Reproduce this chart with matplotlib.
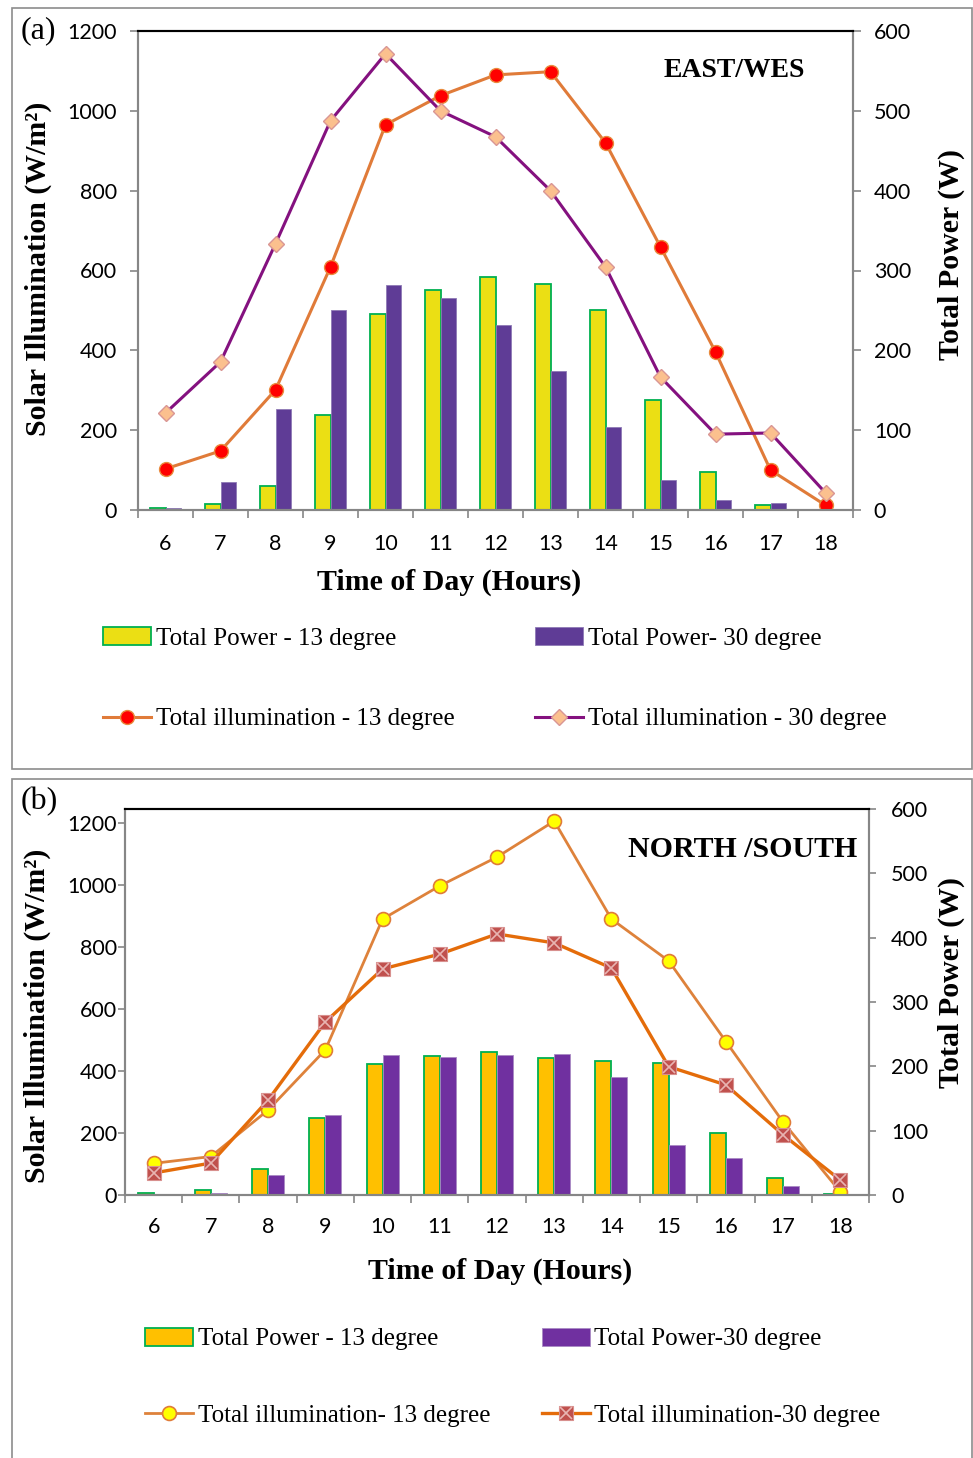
import numpy as np
import matplotlib
matplotlib.use('Agg')
import matplotlib.pyplot as plt
from matplotlib.patches import Rectangle
from matplotlib.legend_handler import HandlerTuple

plt.rcParams.update({'figure.facecolor': 'white'})

## Data
hours = [6, 7, 8, 9, 10, 11, 12, 13, 14, 15, 16, 17, 18]

# (a) EAST/WEST
a_power_13 = [3, 7.5, 30, 119, 246, 275, 292, 283, 251, 138, 47, 6, 0.5]
a_power_30 = [3, 35, 126, 250, 282, 265, 232, 174, 104, 37, 12, 9, 0]
a_illum_13 = [103, 148, 301, 609, 965, 1038, 1090, 1098, 920, 659, 396, 100, 12]
a_illum_30 = [243, 371, 667, 975, 1143, 1000, 935, 800, 609, 333, 190, 193, 43]

# (b) NORTH/SOUTH
b_power_13 = [3.6, 7.8, 40, 119, 204, 216, 222, 213, 208, 205, 97, 26, 1]
b_power_30 = [1, 2.6, 31, 124, 217, 214, 217, 219, 183, 77, 58, 14, 0]
b_illum_13 = [102, 124, 274, 468, 890, 997, 1090, 1206, 890, 755, 495, 235, 10]
b_illum_30 = [71, 103, 306, 558, 729, 777, 842, 813, 732, 414, 355, 194, 48]

W, H = 973, 1458
fig = plt.figure(figsize=(W / 100, H / 100), dpi=100)

def fx(px):
    return px / W

def fy(py):
    return 1 - py / H

SERIF = 'Liberation Serif'
TICKF = 'Lato'
GRAY = '#868686'
LABSIZE = 21.5

#------------------------------------------------------
# panel frames
fig.patches.append(Rectangle((fx(12), fy(769)), fx(960), 761 / H, transform=fig.transFigure,
                             fill=False, edgecolor='#8c8c8c', lw=1.2))
fig.patches.append(Rectangle((fx(12), fy(1462)), fx(960), 683 / H, transform=fig.transFigure,
                             fill=False, edgecolor='#8c8c8c', lw=1.2))


def setup_axes(ax, ax2, ymax_left, lpad, rpad, xpad, tlen):
    x = np.arange(len(hours))
    ax.set_xlim(-0.5, len(hours) - 0.5)
    ax.set_ylim(0, ymax_left)
    ax2.set_ylim(0, 600)
    ax.set_yticks(np.arange(0, 1201, 200))
    ax2.set_yticks(np.arange(0, 601, 100))
    ax.set_xticks(np.arange(-0.5, len(hours), 1.0))
    ax.set_xticklabels([])
    ax.set_xticks(x, minor=True)
    ax.set_xticklabels([str(h) for h in hours], minor=True, fontfamily=TICKF, fontsize=15.5)
    ax.tick_params(axis='x', which='major', length=6, color=GRAY, width=1.2, direction='out')
    ax.tick_params(axis='x', which='minor', length=0, pad=xpad)
    ax.tick_params(axis='y', length=tlen, color=GRAY, width=1.2, pad=lpad)
    ax2.tick_params(axis='y', length=tlen, color=GRAY, width=1.2, pad=rpad)
    for lab in ax.get_yticklabels() + ax2.get_yticklabels():
        lab.set_fontfamily(TICKF)
        lab.set_fontsize(15.5)
    for a in (ax, ax2):
        for s in ('left', 'right', 'bottom'):
            a.spines[s].set_color(GRAY)
            a.spines[s].set_linewidth(1.5)
        a.spines['top'].set_color('black')
        a.spines['top'].set_linewidth(1.5)
    ax.set_zorder(ax2.get_zorder() + 1)
    ax.patch.set_visible(False)


def add_labels(left_xy, right_xy, bottom_xy):
    fig.text(fx(left_xy[0]), fy(left_xy[1]), 'Solar Illumination (W/m²)', rotation=90,
             ha='center', va='center', fontfamily=SERIF, fontweight='bold', fontsize=LABSIZE)
    fig.text(fx(right_xy[0]), fy(right_xy[1]), 'Total Power (W)', rotation=90,
             ha='center', va='center', fontfamily=SERIF, fontweight='bold', fontsize=LABSIZE)
    fig.text(fx(bottom_xy[0]), fy(bottom_xy[1]), 'Time of Day (Hours)',
             ha='center', va='center', fontfamily=SERIF, fontweight='bold', fontsize=LABSIZE)


leg_kw = dict(frameon=False, handlelength=1.9, handletextpad=0.2,
              borderaxespad=0, borderpad=0, loc='upper left')
leg_prop = {'family': SERIF, 'size': 18}

#------------------------------------------------------
# (a) EAST/WEST
axa = fig.add_axes([fx(138), fy(510), fx(853 - 138), (510 - 31) / H])
axa2 = axa.twinx()
x = np.arange(len(hours))
bw = 0.29
b1 = axa2.bar(x - bw / 2, a_power_13, bw, color='#EBDF14', edgecolor='#00B050', lw=1.3)
b2 = axa2.bar(x + bw / 2, a_power_30, bw, color='#5F3C96', edgecolor='#8E7AB5', lw=0.6)
l1, = axa.plot(x, a_illum_13, color='#E07B39', lw=2.2, marker='o', markersize=10,
               markerfacecolor='#FF0000', markeredgecolor='#E98B3D', markeredgewidth=1)
l2, = axa.plot(x, a_illum_30, color='#84117F', lw=2.2, marker='D', markersize=8,
               markerfacecolor='#FBC08E', markeredgecolor='#D99694', markeredgewidth=1)
setup_axes(axa, axa2, 1200, lpad=9, rpad=9, xpad=17, tlen=6)
add_labels((38, 269), (951, 254), (449, 582))
axa.text(0.933, 0.917, 'EAST/WES', transform=axa.transAxes, ha='right', va='center',
         fontfamily=SERIF, fontweight='bold', fontsize=20)
fig.text(fx(21), fy(31), '(a)', fontfamily=SERIF, fontsize=23, va='center')

fig.legend([b1, l1], ['Total Power - 13 degree', 'Total illumination - 13 degree'],
           bbox_to_anchor=(fx(103), fy(627)), prop=leg_prop, labelspacing=2.33, **leg_kw)
fig.legend([b2, l2], ['Total Power- 30 degree', 'Total illumination - 30 degree'],
           bbox_to_anchor=(fx(535), fy(627)), prop=leg_prop, labelspacing=2.33, **leg_kw)

#------------------------------------------------------
# (b) NORTH/SOUTH
axb = fig.add_axes([fx(125), fy(1195), fx(869 - 125), (1195 - 809) / H])
axb2 = axb.twinx()
bw = 0.28
c1 = axb2.bar(x - bw / 2, b_power_13, bw, color='#FFC000', edgecolor='#00B050', lw=1.3)
c2 = axb2.bar(x + bw / 2, b_power_30, bw, color='#7030A0', edgecolor='#A98BC4', lw=0.6)
m1, = axb.plot(x, b_illum_13, color='#DE823B', lw=2.0, marker='o', markersize=10,
               markerfacecolor='#FFFF00', markeredgecolor='#E07B39', markeredgewidth=1.2)
m2, = axb.plot(x, b_illum_30, color='#E46C0A', lw=2.4, marker='s', markersize=10,
               markerfacecolor='#C0504D', markeredgecolor='#D8908E', markeredgewidth=0.8)
m2x, = axb.plot(x, b_illum_30, ls='none', marker='x', markersize=8,
                markeredgecolor='#E8B4B2', markeredgewidth=1.2)
setup_axes(axb, axb2, 1245, lpad=1, rpad=11, xpad=16, tlen=5)
add_labels((37, 1016), (951, 983), (500, 1271))
axb.text(0.984, 0.894, 'NORTH /SOUTH', transform=axb.transAxes, ha='right', va='center',
         fontfamily=SERIF, fontweight='bold', fontsize=21.5)
fig.text(fx(21), fy(802), '(b)', fontfamily=SERIF, fontsize=23, va='center')

fig.legend([c1, (m1,)], ['Total Power - 13 degree', 'Total illumination- 13 degree'],
           bbox_to_anchor=(fx(145), fy(1328)), prop=leg_prop, labelspacing=2.15, **leg_kw)
fig.legend([c2, (m2, m2x)], ['Total Power-30 degree', 'Total illumination-30 degree'],
           bbox_to_anchor=(fx(542), fy(1328)), prop=leg_prop, labelspacing=2.15,
           handler_map={tuple: HandlerTuple(ndivide=1)}, **leg_kw)

plt.savefig('out.png', dpi=100)
